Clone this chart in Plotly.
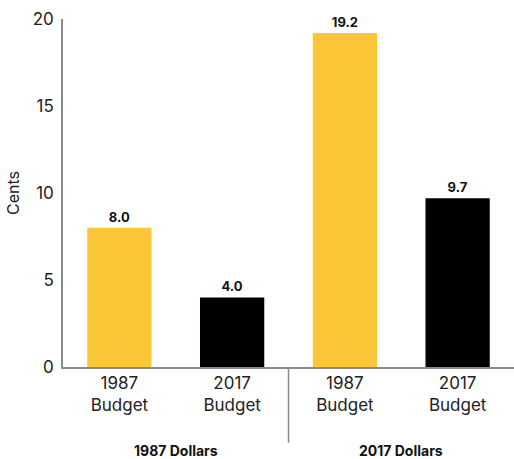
import plotly.graph_objects as go

categories = ["1987<br>Budget", "2017<br>Budget", "1987<br>Budget", "2017<br>Budget"]
values = [8.0, 4.0, 19.2, 9.7]
colors = ["#FBC637", "#000000", "#FBC637", "#000000"]
groups = ["1987 Dollars", "2017 Dollars"]
yticks = [0, 5, 10, 15, 20]

xpos = list(range(len(categories)))

fig = go.Figure()
fig.add_trace(go.Bar(
    x=xpos, y=values, width=0.57,
    marker=dict(color=colors, line=dict(width=0)),
    text=[f"{v:.1f}" for v in values],
    textposition="outside",
    textfont=dict(family="Inter", size=13, color="#111111", weight="bold"),
    cliponaxis=False,
    hoverinfo="skip",
))

FONT = "Inter"
fig.update_layout(
    width=514, height=459,
    margin=dict(l=63, r=0, t=19, b=92),
    paper_bgcolor="white", plot_bgcolor="white",
    showlegend=False,
    font=dict(family=FONT, color="#222222"),
    xaxis=dict(
        tickvals=xpos, ticktext=categories, range=[-0.5, 3.5],
        showline=True, linecolor="#8a8a8a", linewidth=1.5,
        showgrid=False, zeroline=False, ticks="",
        tickfont=dict(size=17, color="#222222"),
    ),
    yaxis=dict(
        range=[0, 20], tickvals=yticks,
        showline=True, linecolor="#8a8a8a", linewidth=1.5,
        showgrid=False, zeroline=False, ticks="",
        tickfont=dict(size=17, color="#222222"),
        ticklabelstandoff=4,
        title=dict(text="Cents", font=dict(size=16, color="#222222"), standoff=9),
    ),
)

# divider between groups
fig.add_shape(type="line", xref="x", yref="paper", x0=1.5, x1=1.5,
              y0=0, y1=-0.218, line=dict(color="#8a8a8a", width=1.5))

for i, g in enumerate(groups):
    fig.add_annotation(x=0.5 + 2 * i, y=-0.24, xref="x", yref="paper",
                       text=f"<b>{g}</b>", showarrow=False, yanchor="middle",
                       font=dict(size=14, color="#111111", family=FONT))

fig.write_html("out.html")
